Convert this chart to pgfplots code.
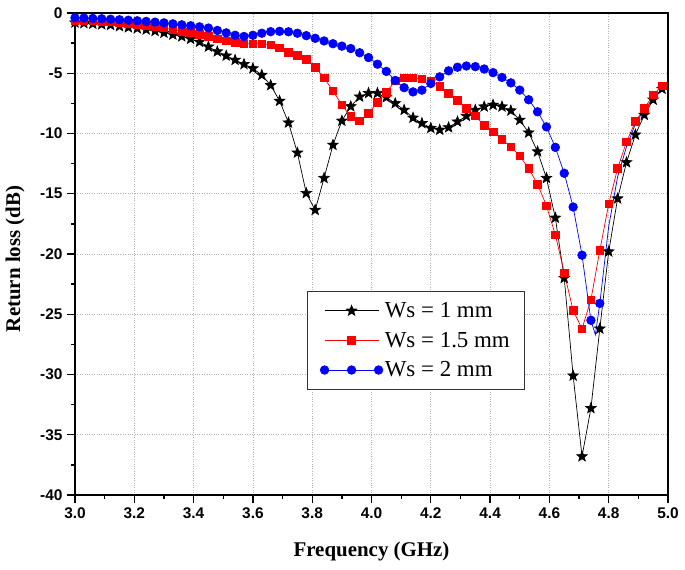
\documentclass[border=0pt]{standalone}
\usepackage{fontspec}
\setmainfont{Liberation Serif}
\newfontfamily\tickfont{Liberation Sans}
\usepackage{pgfplots}
\usepackage{pgfplotstable}
\pgfplotsset{compat=1.18}

\pgfdeclareplotmark{fstar}{%
  \pgfpathmoveto{\pgfpointpolar{90}{\pgfplotmarksize}}%
  \pgfpathlineto{\pgfpointpolar{126}{0.42\pgfplotmarksize}}%
  \pgfpathlineto{\pgfpointpolar{162}{\pgfplotmarksize}}%
  \pgfpathlineto{\pgfpointpolar{198}{0.42\pgfplotmarksize}}%
  \pgfpathlineto{\pgfpointpolar{234}{\pgfplotmarksize}}%
  \pgfpathlineto{\pgfpointpolar{270}{0.42\pgfplotmarksize}}%
  \pgfpathlineto{\pgfpointpolar{306}{\pgfplotmarksize}}%
  \pgfpathlineto{\pgfpointpolar{342}{0.42\pgfplotmarksize}}%
  \pgfpathlineto{\pgfpointpolar{18}{\pgfplotmarksize}}%
  \pgfpathlineto{\pgfpointpolar{54}{0.42\pgfplotmarksize}}%
  \pgfpathclose
  \pgfusepathqfillstroke
}

\pgfplotstableread{
f s
3.00 -0.80
3.03 -0.85
3.06 -0.90
3.09 -0.95
3.12 -1.00
3.15 -1.10
3.18 -1.20
3.21 -1.28
3.24 -1.38
3.27 -1.50
3.30 -1.65
3.33 -1.80
3.36 -1.95
3.39 -2.15
3.42 -2.40
3.45 -2.80
3.48 -3.20
3.51 -3.55
3.54 -3.90
3.57 -4.25
3.60 -4.60
3.63 -5.15
3.66 -6.00
3.69 -7.30
3.72 -9.10
3.75 -11.60
3.78 -14.95
3.81 -16.35
3.84 -13.70
3.87 -10.95
3.90 -8.95
3.93 -7.75
3.96 -6.95
3.99 -6.65
4.02 -6.65
4.05 -7.00
4.08 -7.50
4.11 -8.05
4.14 -8.70
4.17 -9.15
4.20 -9.55
4.23 -9.70
4.26 -9.50
4.29 -9.02
4.32 -8.55
4.35 -8.05
4.38 -7.77
4.41 -7.63
4.44 -7.77
4.47 -8.10
4.50 -8.88
4.53 -9.93
4.56 -11.50
4.59 -13.70
4.62 -17.00
4.65 -22.00
4.68 -30.10
4.71 -36.80
4.74 -32.80
4.77 -26.20
4.80 -19.80
4.83 -15.40
4.86 -12.40
4.89 -10.10
4.92 -8.46
4.95 -7.20
4.98 -6.30
}\wsone

\pgfplotstableread{
f s
3.00 -0.60
3.03 -0.62
3.06 -0.65
3.09 -0.70
3.12 -0.75
3.15 -0.80
3.18 -0.88
3.21 -0.95
3.24 -1.05
3.27 -1.15
3.30 -1.25
3.33 -1.38
3.36 -1.50
3.39 -1.63
3.42 -1.78
3.45 -1.95
3.48 -2.15
3.51 -2.30
3.54 -2.45
3.57 -2.55
3.60 -2.55
3.63 -2.55
3.66 -2.65
3.69 -2.90
3.72 -3.25
3.75 -3.50
3.78 -3.85
3.81 -4.50
3.84 -5.37
3.87 -6.47
3.90 -7.63
3.93 -8.60
3.96 -8.96
3.99 -8.33
4.02 -7.41
4.05 -6.58
4.08 -5.64
4.11 -5.37
4.14 -5.37
4.17 -5.48
4.20 -5.64
4.23 -6.10
4.26 -6.67
4.29 -7.27
4.32 -7.90
4.35 -8.55
4.38 -9.30
4.41 -9.85
4.44 -10.50
4.47 -11.10
4.50 -11.87
4.53 -12.90
4.56 -14.20
4.59 -16.00
4.62 -18.40
4.65 -21.55
4.68 -24.70
4.71 -26.20
4.74 -23.80
4.77 -19.70
4.80 -15.85
4.83 -12.90
4.86 -10.70
4.89 -9.00
4.92 -7.90
4.95 -6.80
4.98 -6.06
}\wsonefive

\pgfplotstableread{
f s
3.00 -0.40
3.03 -0.42
3.06 -0.45
3.09 -0.48
3.12 -0.52
3.15 -0.56
3.18 -0.60
3.21 -0.65
3.24 -0.70
3.27 -0.76
3.30 -0.82
3.33 -0.90
3.36 -0.98
3.39 -1.06
3.42 -1.15
3.45 -1.25
3.48 -1.45
3.51 -1.65
3.54 -1.85
3.57 -1.95
3.60 -1.85
3.63 -1.68
3.66 -1.55
3.69 -1.52
3.72 -1.56
3.75 -1.68
3.78 -1.88
3.81 -2.10
3.84 -2.32
3.87 -2.55
3.90 -2.75
3.93 -2.95
3.96 -3.30
3.99 -3.70
4.02 -4.25
4.05 -4.85
4.08 -5.60
4.11 -6.20
4.14 -6.55
4.17 -6.40
4.20 -5.85
4.23 -5.30
4.26 -4.80
4.29 -4.50
4.32 -4.40
4.35 -4.45
4.38 -4.65
4.41 -4.95
4.44 -5.35
4.47 -5.80
4.50 -6.40
4.53 -7.20
4.56 -8.20
4.59 -9.45
4.62 -11.15
4.65 -13.30
4.68 -16.10
4.71 -20.10
4.74 -25.50
4.755 -26.70
4.77 -24.10
4.80 -17.70
4.83 -13.60
4.86 -11.10
4.89 -9.20
4.92 -8.00
4.95 -7.10
4.98 -6.30
}\wstwo

\begin{document}
\begin{tikzpicture}[x=1bp,y=1bp]
\useasboundingbox (0,0) rectangle (685,570);
\begin{axis}[
  at={(75bp,75bp)}, anchor=south west,
  width=593bp, height=482bp, scale only axis,
  xmin=3, xmax=5, ymin=-40, ymax=0,
  xtick={3,3.2,...,5.01},
  xticklabels={3.0,3.2,3.4,3.6,3.8,4.0,4.2,4.4,4.6,4.8,5.0},
  ytick={-40,-35,...,0},
  yticklabels={-40,-35,-30,-25,-20,-15,-10,-5,0},
  minor x tick num=1, minor y tick num=1,
  tick align=outside,
  xtick pos=bottom, ytick pos=left,
  major tick length=8bp, minor tick length=4bp,
  every tick/.style={black, line width=1.3bp},
  axis line style={line width=1.6bp},
  grid=major,
  major grid style={gray!60, dotted, line width=0.8bp},
  tick label style={font=\tickfont\bfseries\fontsize{15.5}{17}\selectfont},
  xticklabel style={yshift=-1bp},
  yticklabel style={xshift=-1bp},
  xlabel={Frequency (GHz)},
  ylabel={Return loss (dB)},
  label style={font=\bfseries\fontsize{21}{24}\selectfont},
  xlabel style={at={(axis description cs:0.5,-0.118)}, anchor=center},
  ylabel style={at={(axis description cs:-0.101,0.49)}, anchor=center},
  legend style={at={(axis description cs:0.391,0.423)}, anchor=north west,
    draw=black!80, line width=0.8bp, fill=white,
    font=\fontsize{23}{25}\selectfont,
    inner xsep=13bp, inner ysep=9bp, row sep=9bp,
    legend cell align=left},
  legend image code/.code={%
    \draw[mark repeat=2, mark phase=2, #1] plot coordinates {(0bp,0bp) (27bp,0bp) (54bp,0bp)};},
]
\addplot[black, line width=0.7bp, mark=fstar, mark size=5.5bp, mark options={solid, fill=black}] table[x=f,y=s] {\wsone};
\addplot[red, line width=0.7bp, mark=square*, mark size=3.8bp, mark options={solid, fill=red, draw=red}] table[x=f,y=s] {\wsonefive};
\addplot[blue, line width=0.7bp, mark=*, mark size=4.3bp, mark options={solid, fill=blue, draw=blue},
  mark indices={1,...,59,61,...,68}] table[x=f,y=s] {\wstwo};
\legend{Ws = 1 mm, Ws = 1.5 mm, Ws = 2 mm}
\end{axis}
\end{tikzpicture}
\end{document}
